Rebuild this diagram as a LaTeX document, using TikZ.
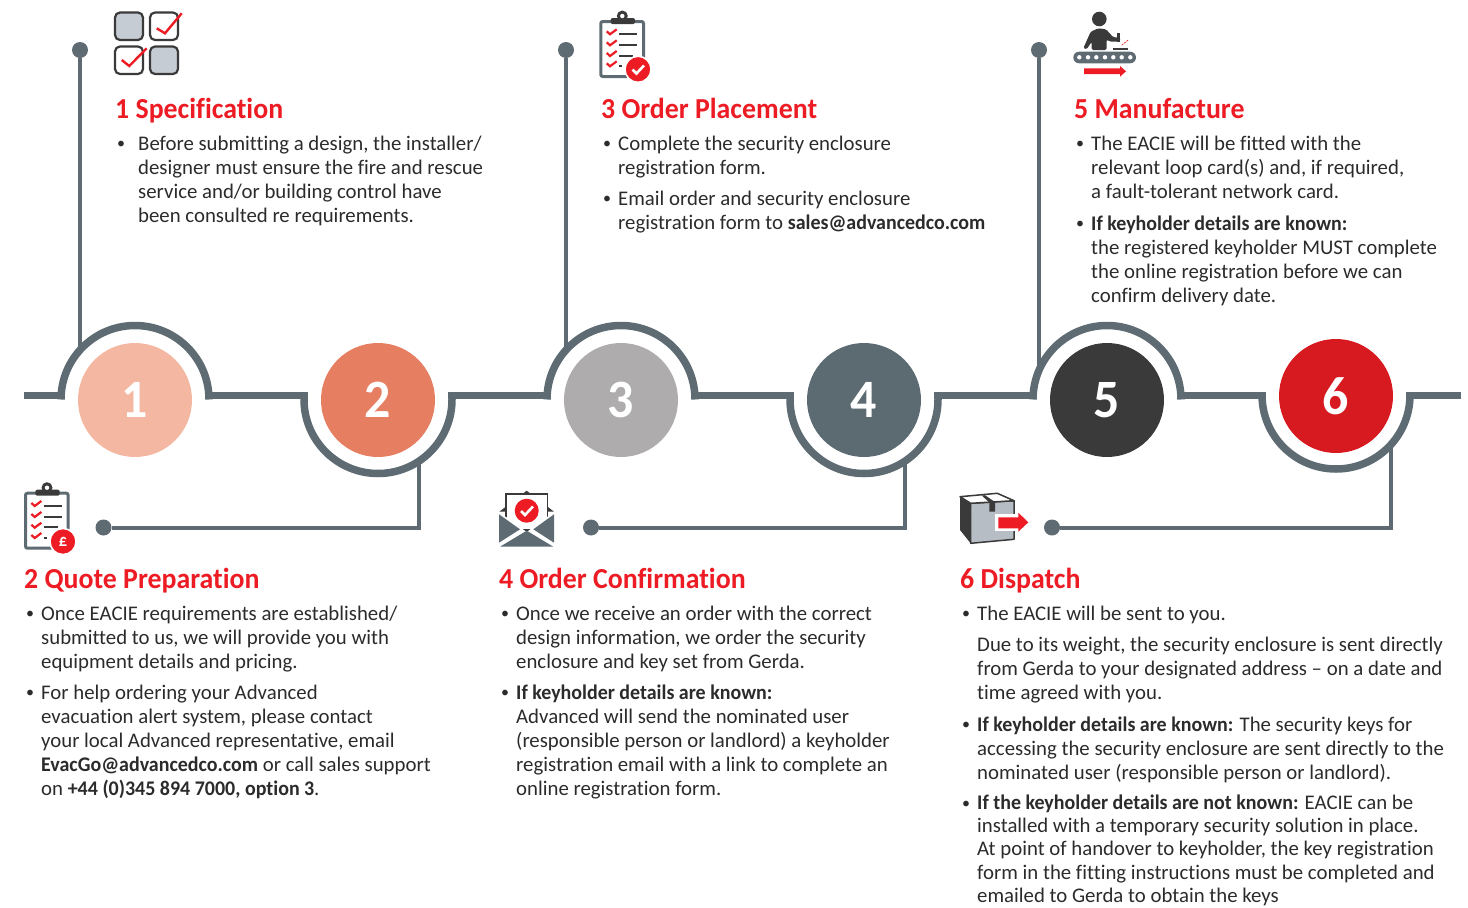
\documentclass[tikz,border=0pt]{standalone}
\usepackage{xcolor}
\usepackage{fontspec}
\setmainfont[Ligatures=NoCommon, BoldFeatures={FakeStretch=0.96}]{Carlito}
\usetikzlibrary{positioning}

\definecolor{slate}{HTML}{5E6B73}
\definecolor{inkdark}{HTML}{3A3A3A}
\definecolor{textdark}{HTML}{2B2B2B}
\definecolor{redmark}{HTML}{ED1C24}
\definecolor{boxgrey}{HTML}{C5CCD3}
\definecolor{stepa}{HTML}{F4B8A2}
\definecolor{stepb}{HTML}{E67E62}
\definecolor{stepc}{HTML}{AEACAC}
\definecolor{stepd}{HTML}{5C6A72}
\definecolor{stepe}{HTML}{3A3A3A}
\definecolor{stepf}{HTML}{D71920}

\tikzset{
    track/.style={draw=slate, line width=7.5pt},
    lead/.style={draw=slate, line width=4pt},
    stopdot/.style={circle, fill=slate, inner sep=0pt, minimum size=16pt},
    stepdisc/.style={circle, inner sep=0pt, minimum size=114pt, text=white,
        font=\fontsize{54}{54}\selectfont\bfseries},
    headline/.style={anchor=north west, inner sep=0pt, text=redmark,
        font=\fontsize{29}{30}\selectfont\bfseries},
    body/.style={anchor=north west, inner sep=0pt, align=left, text=textdark,
        font=\fontsize{20.8}{24}\selectfont},
    bulletmark/.style={inner sep=0pt, yshift=-1.5pt, text=textdark, font=\fontsize{16}{24}\selectfont},
    tickbox/.style={draw=inkdark, line width=2.2pt, rounded corners=5pt},
    redtick/.style={draw=redmark, line width=2.4pt},
    clipboard/.pic={
        \draw[slate, line width=3pt, rounded corners=2pt] (21.5,40) -- (21.5,3.5) -- (-21.2,3.5) -- (-21.2,58.5) -- (5,58.5);
        \fill[inkdark, rounded corners=2pt] (-11.3,0) rectangle (13,6);
        \fill[inkdark] (0.3,-2) circle (5.5pt);
        \fill[white] (0.3,-2) circle (2.2pt);
        \foreach \y in {14.3,25.3,36,46.3} {
            \draw[redmark, line width=2.2pt] (-15.3,\y-1) -- (-12,\y+2) -- (-5.3,\y-3);
        }
        \draw[inkdark, line width=2pt] (-3,16.3) -- (15.3,16.3);
        \draw[inkdark, line width=2pt] (-3,27) -- (15.3,27);
        \draw[inkdark, line width=2pt] (-3,37.7) -- (11,37.7);
        \draw[inkdark, line width=2pt] (-3,48) -- (0,48);
    },
}

\begin{document}
\begin{tikzpicture}[x=1pt, y=-1pt]
    \useasboundingbox (0,0) rectangle (1468,908);

    % the six steps
    \node[stepdisc, fill=stepa] (s1) at (135,400) {1};
    \node[stepdisc, fill=stepb] (s2) at (378,400) {2};
    \node[stepdisc, fill=stepc] (s3) at (621,400) {3};
    \node[stepdisc, fill=stepd] (s4) at (864,400) {4};
    \node[stepdisc, fill=stepe] (s5) at (1107,400) {5};
    \node[stepdisc, fill=stepf] (s6) at (1336,396) {6};

    % the line that runs through them
    \draw[track] (24,395.7) -- (65,395.7);
    \draw[track] (205,395.7) -- (308,395.7);
    \draw[track] (448,395.7) -- (551,395.7);
    \draw[track] (691,395.7) -- (794,395.7);
    \draw[track] (934,395.7) -- (1037,395.7);
    \draw[track] (1177,395.7) -- (1266,395.7);
    \draw[track] (1406,395.7) -- (1461,395.7);

    \draw[track] (61,399.5) arc[start angle=180, end angle=360, radius=74];
    \draw[track] (547,399.5) arc[start angle=180, end angle=360, radius=74];
    \draw[track] (1033,399.5) arc[start angle=180, end angle=360, radius=74];
    \draw[track] (304,392) -- (304,399.5) arc[start angle=180, end angle=0, radius=74] -- (452,392);
    \draw[track] (790,392) -- (790,399.5) arc[start angle=180, end angle=0, radius=74] -- (938,392);
    \draw[track] (1262,392) -- (1262,395) arc[start angle=180, end angle=0, radius=74] -- (1410,392);

    % stops and their leads
    \node[stopdot] (d1) at (80,50) {};
    \node[stopdot] (d2) at (103.5,527.5) {};
    \node[stopdot] (d3) at (566,50) {};
    \node[stopdot] (d4) at (591,527.5) {};
    \node[stopdot] (d5) at (1039,50) {};
    \node[stopdot] (d6) at (1052,527.5) {};

    \coordinate (j1) at (80,350);
    \coordinate (j2) at (419,461);
    \coordinate (j3) at (566,350);
    \coordinate (j4) at (905,461);
    \coordinate (j5) at (1039,370);
    \coordinate (j6) at (1391,444);

    \draw[lead] (d1) -- (j1);
    \draw[lead] (d2) -| (j2);
    \draw[lead] (d3) -- (j3);
    \draw[lead] (d4) -| (j4);
    \draw[lead] (d5) -- (j5);
    \draw[lead] (d6) -| (j6);

    % icon 1
    \draw[tickbox, fill=boxgrey] (115,12.5) rectangle (143,40);
    \draw[tickbox, fill=white] (150,12.5) rectangle (178,40);
    \draw[tickbox, fill=white] (115,46.5) rectangle (143,74);
    \draw[tickbox, fill=boxgrey] (150,46.5) rectangle (178,74);
    \draw[redtick] (156.7,28.3) -- (165,33.3) -- (181.7,13.3);
    \draw[redtick] (121.7,60) -- (129.3,66) -- (146.7,48.3);

    % icon 2
    \pic (clipb) at (46.7,489.7) {clipboard};
    \node[circle, fill=redmark, draw=white, line width=1.5pt, inner sep=0pt, minimum size=26pt,
        text=white, font=\fontsize{17}{17}\selectfont\bfseries] (badgeb) at (63,541.5) {£};

    % icon 3
    \pic (clipc) at (622,18) {clipboard};
    \node[circle, fill=redmark, draw=white, line width=1.5pt, inner sep=0pt, minimum size=26pt] (badgec) at (638,69.3) {};
    \draw[white, line width=2.6pt] (632.5,69.5) -- (636.5,73.5) -- (644,65.5);

    % icon 4
    \fill[inkdark] (526.7,490.7) -- (554,511.7) -- (499.3,511.7) -- cycle;
    \draw[inkdark, fill=white, line width=1.3pt] (506,494) rectangle (547.7,530);
    \fill[white] (499,512) -- (526.7,532) -- (554,512) -- (554,520) -- (526.7,546) -- (499,520) -- cycle;
    \fill[slate] (499,514.3) -- (520,529.3) -- (499,542.7) -- cycle;
    \fill[slate] (554,514.3) -- (533.3,529.3) -- (554,542.7) -- cycle;
    \fill[slate] (500,546.7) -- (526.7,530.7) -- (553.3,546.7) -- cycle;
    \node[circle, fill=redmark, inner sep=0pt, minimum size=24pt] (badged) at (526.7,510.7) {};
    \draw[white, line width=2.6pt] (521,511) -- (525,515) -- (533,506.5);

    % icon 5
    \fill[inkdark] (1099.3,19) circle (7.3pt);
    \fill[inkdark, rounded corners=1.5pt] (1083.3,48.3) -- (1090.7,31.7) -- (1098.3,28.3) -- (1106,29.3) -- (1113.3,37.3)
        -- (1120,37.3) -- (1120,41.7) -- (1110,41.7) -- (1106.7,39.3) -- (1106.7,50) -- (1091.7,50) -- (1091.7,41.7) -- (1086.7,49.3) -- cycle;
    \fill[inkdark] (1117,33) rectangle (1120,42);
    \fill[inkdark] (1113,47.5) rectangle (1128,50);
    \draw[redmark, line width=.7pt, dash pattern=on 2pt off 1pt] (1121.7,45) -- (1128.3,40);
    \fill[slate, rounded corners=5.8pt] (1073.3,51.7) rectangle (1136,63.3);
    \foreach \x in {1079.3,1088,1096.3,1105,1113.3,1121.7,1130.3} {
        \fill[white] (\x,57.3) circle (2.2pt);
    }
    \fill[redmark] (1084,68.3) -- (1120,68.3) -- (1120,66) -- (1126,71.3) -- (1120,76.7) -- (1120,74) -- (1084,74) -- cycle;

    % icon 6
    \draw[inkdark, fill=boxgrey!85!slate, line width=1.5pt, line join=round] (970.7,503.3) -- (1014,500.7) -- (1014,539.3) -- (970.7,543.3) -- cycle;
    \fill[inkdark] (960,496.7) -- (970.7,503.3) -- (970.7,543.3) -- (960,530) -- cycle;
    \draw[inkdark, fill=white, line width=1.5pt, line join=round] (960,496.7) -- (997.3,493.3) -- (1014,500.7) -- (970.7,503.3) -- cycle;
    \fill[inkdark] (981.7,495.5) -- (985,495.2) -- (995,502) -- (995,511.7) -- (989.3,511.7) -- (989.3,502.4) -- cycle;
    \fill[white] (995,514) rectangle (1018.3,531);
    \fill[redmark] (998.3,517.3) -- (1018.3,517.3) -- (1018.3,512.7) -- (1028.3,522.3) -- (1018.3,531.7) -- (1018.3,528.3) -- (998.3,528.3) -- cycle;

    % titles
    \node[headline] (t1) at (115,98) {1 Specification};
    \node[headline] (t2) at (24,568) {2 Quote Preparation};
    \node[headline] (t3) at (601,98) {3 Order Placement};
    \node[headline] (t4) at (499,568) {4 Order Confirmation};
    \node[headline] (t5) at (1074,98) {5 Manufacture};
    \node[headline] (t6) at (960,568) {6 Dispatch};

    % step 1
    \node[bulletmark] (m1a) at (121,143) {•};
    \node[body] (p1a) at (138,136) {Before submitting a design, the installer/\\designer must ensure the fire and rescue\\service and/or building control have\\been consulted re requirements.};

    % step 2
    \node[bulletmark] (m2a) at (30,613) {•};
    \node[body] (p2a) at (41,606) {Once EACIE requirements are established/\\submitted to us, we will provide you with\\equipment details and pricing.};
    \node[bulletmark] (m2b) at (30,692) {•};
    \node[body] (p2b) at (41,685) {For help ordering your Advanced\\evacuation alert system, please contact\\your local Advanced representative, email\\\textbf{EvacGo@advancedco.com} or call sales support\\on \textbf{+44 (0)345 894 7000, option 3}.};

    % step 3
    \node[bulletmark] (m3a) at (607,143) {•};
    \node[body] (p3a) at (618,136) {Complete the security enclosure\\registration form.};
    \node[bulletmark] (m3b) at (607,198) {•};
    \node[body] (p3b) at (618,191) {Email order and security enclosure\\registration form to \textbf{sales@advancedco.com}};

    % step 4
    \node[bulletmark] (m4a) at (505,613) {•};
    \node[body] (p4a) at (516,606) {Once we receive an order with the correct\\design information, we order the security\\enclosure and key set from Gerda.};
    \node[bulletmark] (m4b) at (505,692) {•};
    \node[body] (p4b) at (516,685) {\textbf{If keyholder details are known:}\\Advanced will send the nominated user\\(responsible person or landlord) a keyholder\\registration email with a link to complete an\\online registration form.};

    % step 5
    \node[bulletmark] (m5a) at (1080,143) {•};
    \node[body] (p5a) at (1091,136) {The EACIE will be fitted with the\\relevant loop card(s) and, if required,\\a fault-tolerant network card.};
    \node[bulletmark] (m5b) at (1080,223) {•};
    \node[body] (p5b) at (1091,216) {\textbf{If keyholder details are known:}\\the registered keyholder MUST complete\\the online registration before we can\\confirm delivery date.};

    % step 6
    \node[bulletmark] (m6a) at (966,613) {•};
    \node[body] (p6a) at (977,606) {The EACIE will be sent to you.};
    \node[body] (p6b) at (977,637) {Due to its weight, the security enclosure is sent directly\\from Gerda to your designated address – on a date and\\time agreed with you.};
    \node[bulletmark] (m6c) at (966,724) {•};
    \node[body] (p6c) at (977,717) {\textbf{If keyholder details are known:} The security keys for\\accessing the security enclosure are sent directly to the\\nominated user (responsible person or landlord).};
    \node[bulletmark] (m6d) at (966,803) {•};
    \node[body, font=\fontsize{20.8}{23.3}\selectfont] (p6d) at (977,794.5) {\textbf{If the keyholder details are not known:} EACIE can be\\installed with a temporary security solution in place.\\At point of handover to keyholder, the key registration\\form in the fitting instructions must be completed and\\emailed to Gerda to obtain the keys};
\end{tikzpicture}
\end{document}
